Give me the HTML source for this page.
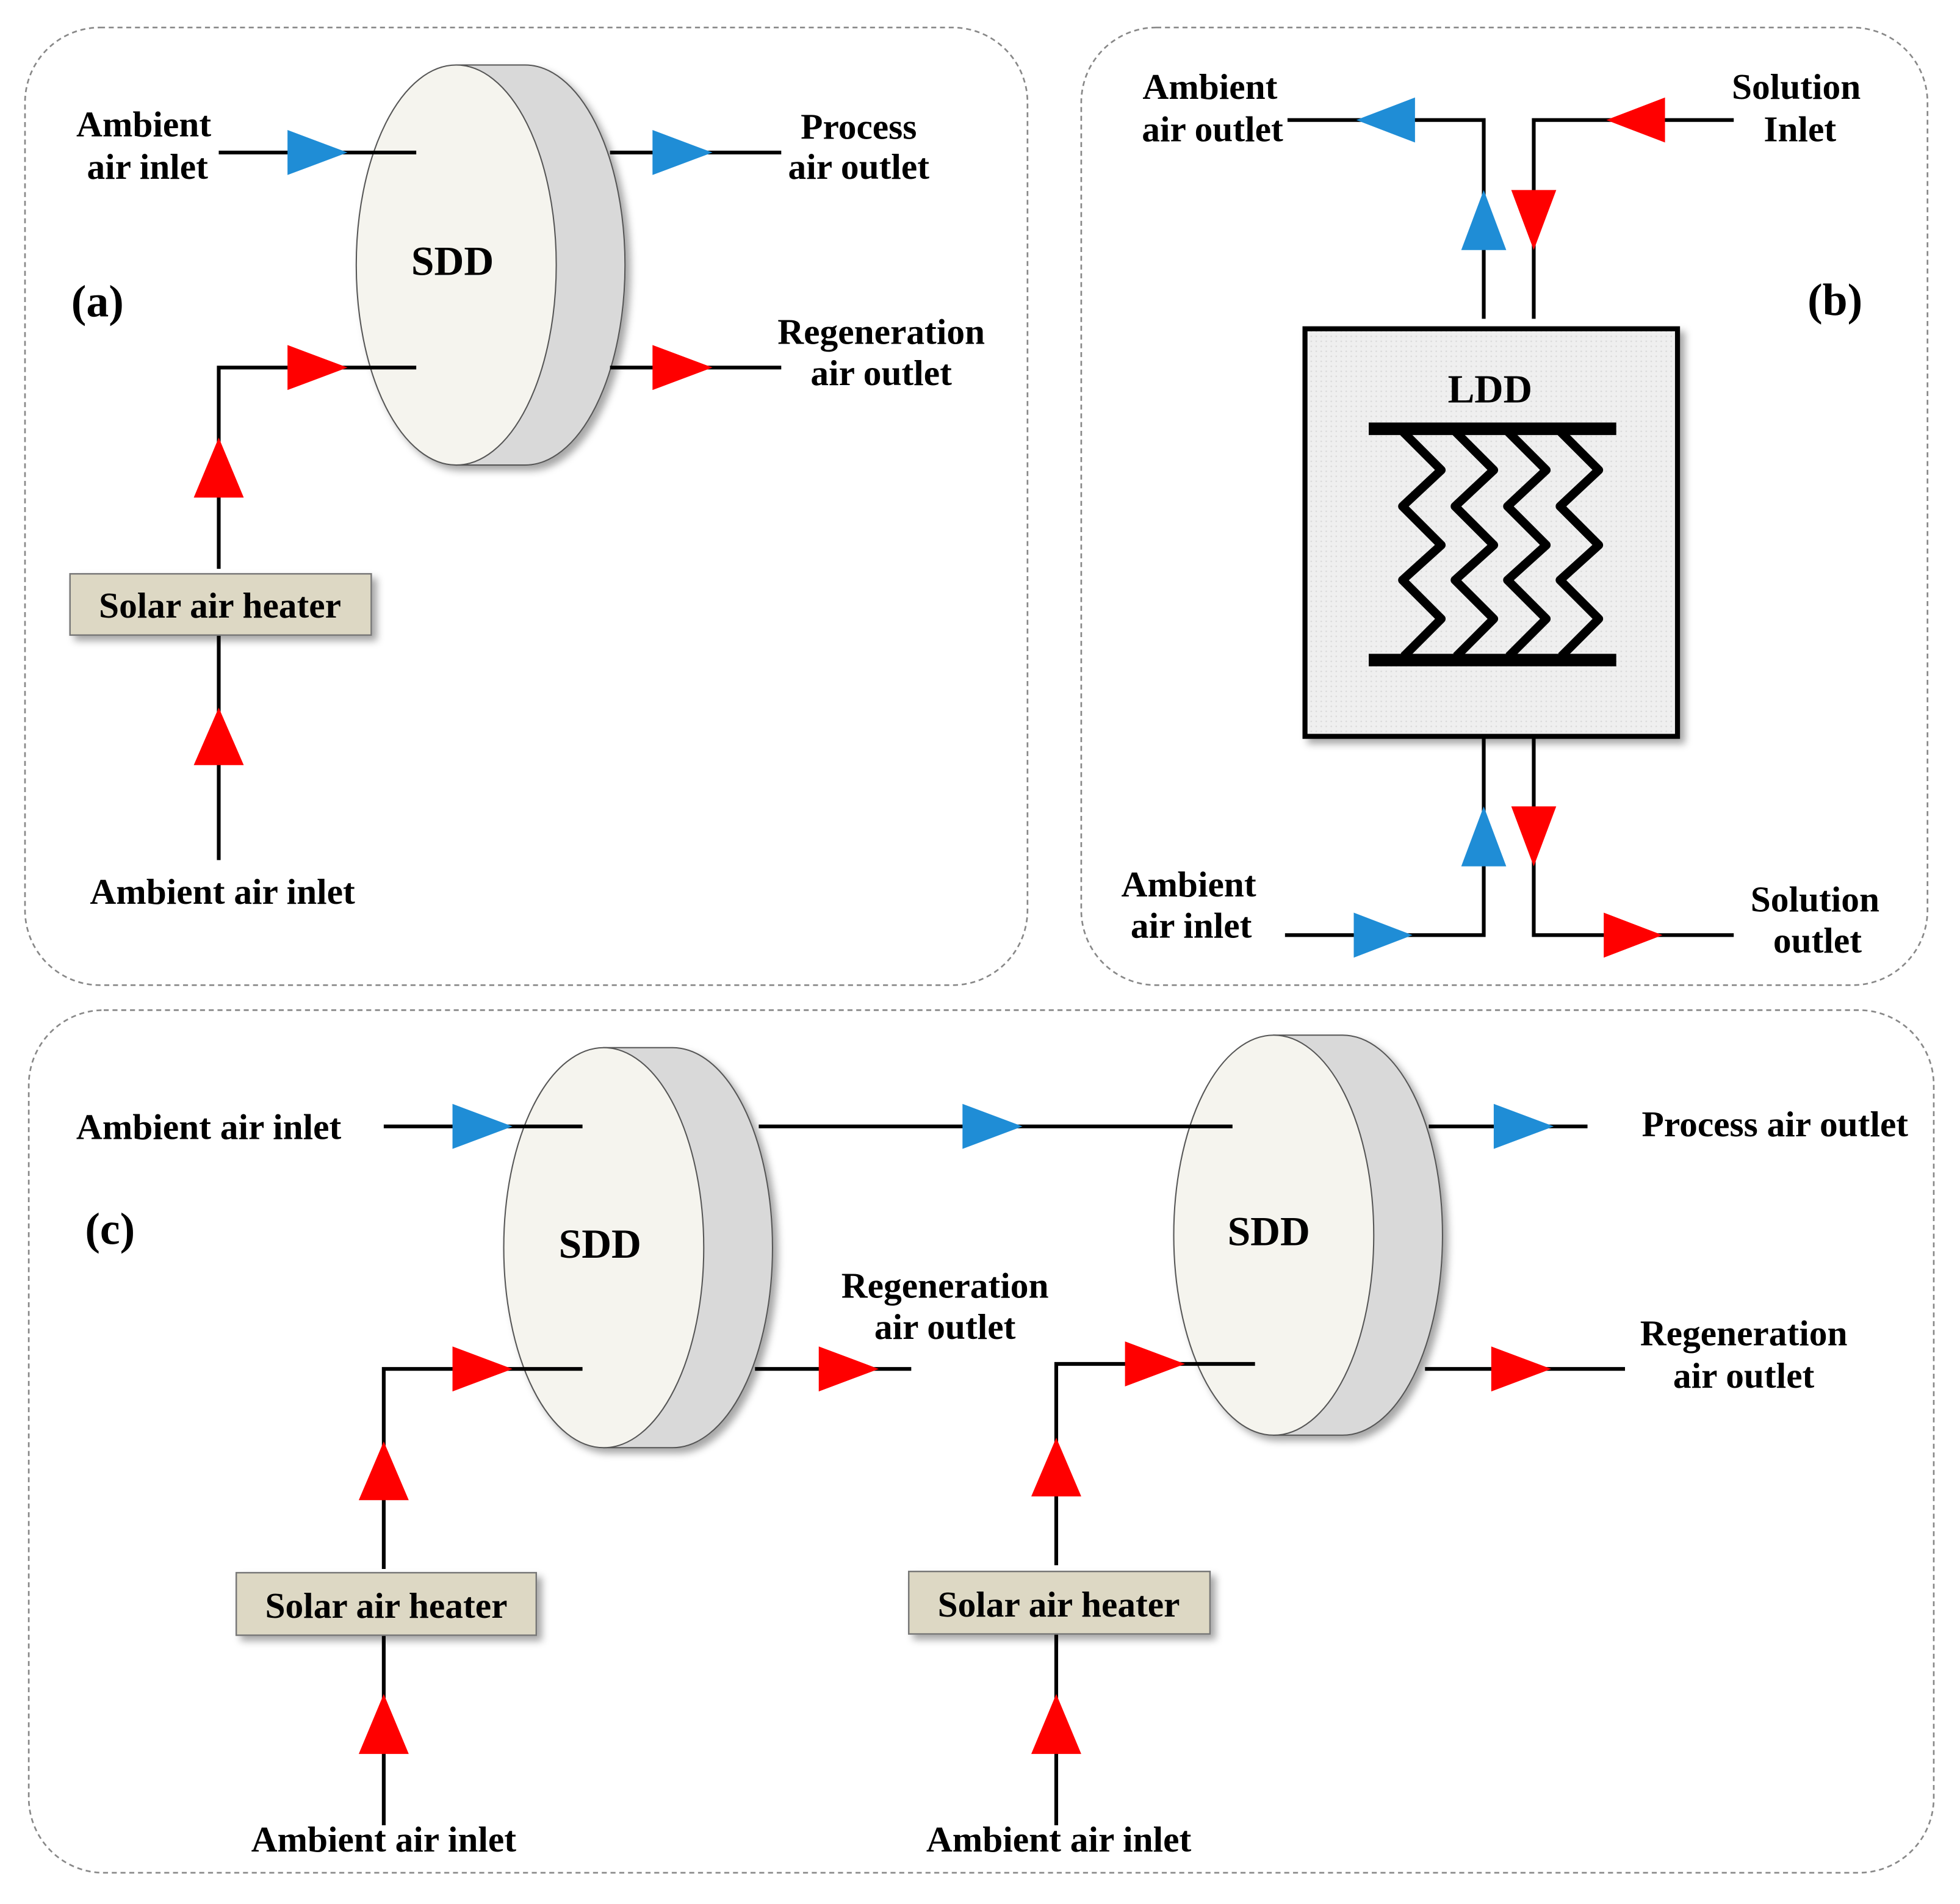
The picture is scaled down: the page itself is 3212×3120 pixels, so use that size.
<!DOCTYPE html>
<html><head><meta charset="utf-8"><style>
html,body{margin:0;padding:0;background:#fff;}
svg{display:block;}
text{font-family:"Liberation Serif",serif;font-weight:bold;fill:#000;}
</style></head><body>
<svg width="3212" height="3120" viewBox="0 0 1568 1523" preserveAspectRatio="none" xmlns="http://www.w3.org/2000/svg">
<defs>
<filter id="sh" x="-20%" y="-20%" width="150%" height="150%"><feDropShadow dx="4" dy="4" stdDeviation="3" flood-color="#000" flood-opacity="0.35"/></filter>
<pattern id="dots" width="4" height="4" patternUnits="userSpaceOnUse"><rect width="4" height="4" fill="#efefef"/><circle cx="1" cy="1" r="0.6" fill="#d8d8d8"/></pattern>
</defs>
<g fill="none" stroke="#888" stroke-width="1.3" stroke-dasharray="4,3">
<rect x="20" y="22" width="802" height="766" rx="60"/>
<rect x="865" y="22" width="677" height="766" rx="60"/>
<rect x="23" y="808" width="1524" height="690" rx="60"/>
</g>

<g filter="url(#sh)">
<path d="M365 52 L420 52 A80 160 0 0 1 420 372 L365 372 Z" fill="#d9d9d9" stroke="#555" stroke-width="1"/>
<ellipse cx="365" cy="212" rx="80" ry="160" fill="#f5f4ee" stroke="#555" stroke-width="1"/>
</g>
<g filter="url(#sh)">
<path d="M483 838 L538 838 A80 160 0 0 1 538 1158 L483 1158 Z" fill="#d9d9d9" stroke="#555" stroke-width="1"/>
<ellipse cx="483" cy="998" rx="80" ry="160" fill="#f5f4ee" stroke="#555" stroke-width="1"/>
</g>
<g filter="url(#sh)">
<path d="M1019 828 L1074 828 A80 160 0 0 1 1074 1148 L1019 1148 Z" fill="#d9d9d9" stroke="#555" stroke-width="1"/>
<ellipse cx="1019" cy="988" rx="80" ry="160" fill="#f5f4ee" stroke="#555" stroke-width="1"/>
</g>

<g stroke="#000" stroke-width="3" fill="none">
<path d="M175 122 H333 M488 122 H625"/>
<path d="M175 455 V294 H333 M488 294 H625"/>
<path d="M175 508 V688"/>
<path d="M1030 96 H1187 V255 M1387 96 H1227 V255"/>
<path d="M1187 590 V748 H1028 M1227 590 V748 H1387"/>
<path d="M307 901 H466 M607 901 H986 M1143 901 H1270"/>
<path d="M307 1255 V1095 H466 M604 1095 H729"/>
<path d="M307 1308 V1460"/>
<path d="M845 1252 V1091 H1004 M1140 1095 H1300"/>
<path d="M845 1307 V1460"/>
</g>

<g fill="#1f8dd6">
<polygon points="230,104 278,122 230,140"/>
<polygon points="522,104 570,122 522,140"/>
<polygon points="1132,78 1085,96 1132,114"/>
<polygon points="1169,200 1187,152 1205,200"/>
<polygon points="1169,693 1187,645 1205,693"/>
<polygon points="1083,730 1130,748 1083,766"/>
<polygon points="362,883 410,901 362,919"/>
<polygon points="770,883 818,901 770,919"/>
<polygon points="1195,883 1243,901 1195,919"/>
</g>
<g fill="#f00">
<polygon points="230,276 278,294 230,312"/>
<polygon points="522,276 570,294 522,312"/>
<polygon points="155,398 175,350 195,398"/>
<polygon points="155,612 175,566 195,612"/>
<polygon points="1332,78 1285,96 1332,114"/>
<polygon points="1209,152 1227,200 1245,152"/>
<polygon points="1209,645 1227,693 1245,645"/>
<polygon points="1283,730 1330,748 1283,766"/>
<polygon points="362,1077 410,1095 362,1113"/>
<polygon points="655,1077 703,1095 655,1113"/>
<polygon points="287,1200 307,1153 327,1200"/>
<polygon points="287,1403 307,1355 327,1403"/>
<polygon points="900,1073 948,1091 900,1109"/>
<polygon points="1193,1077 1241,1095 1193,1113"/>
<polygon points="825,1197 845,1150 865,1197"/>
<polygon points="825,1403 845,1355 865,1403"/>
</g>

<g fill="#ddd8c4" stroke="#777" stroke-width="1.2" filter="url(#sh)">
<rect x="56" y="459" width="241" height="49"/>
<rect x="189" y="1258" width="240" height="50"/>
<rect x="727" y="1257" width="241" height="50"/>
</g>

<rect x="1044" y="263" width="298" height="326" fill="url(#dots)" stroke="#000" stroke-width="4" filter="url(#sh)"/>
<g stroke="#000" stroke-width="10"><path d="M1095 343 H1293 M1095 528 H1293"/></g>
<g stroke="#000" stroke-width="7" fill="none" stroke-linejoin="round">
<polyline points="1121,344 1153,376 1122,405 1153,436 1122,464 1153,495 1123,525"/>
<polyline points="1163,344 1195,376 1164,405 1195,436 1164,464 1195,495 1165,525"/>
<polyline points="1205,344 1237,376 1206,405 1237,436 1206,464 1237,495 1207,525"/>
<polyline points="1247,344 1279,376 1248,405 1279,436 1248,464 1279,495 1249,525"/>
</g>

<g font-size="29" text-anchor="middle">
<text x="115" y="109">Ambient</text><text x="118" y="143">air inlet</text>
<text x="687" y="111">Process</text><text x="687" y="143">air outlet</text>
<text x="362" y="220" font-size="33">SDD</text>
<text x="78" y="253" font-size="36">(a)</text>
<text x="705" y="275">Regeneration</text><text x="705" y="308">air outlet</text>
<text x="178" y="723">Ambient air inlet</text>
<text x="968" y="79">Ambient</text><text x="970" y="113">air outlet</text>
<text x="1437" y="79">Solution</text><text x="1440" y="113">Inlet</text>
<text x="1468" y="252" font-size="36">(b)</text>
<text x="1192" y="322" font-size="32">LDD</text>
<text x="951" y="717">Ambient</text><text x="953" y="750">air inlet</text>
<text x="1452" y="729">Solution</text><text x="1454" y="762">outlet</text>
<text x="176" y="494">Solar air heater</text>
<text x="309" y="1294">Solar air heater</text>
<text x="847" y="1293">Solar air heater</text>
<text x="167" y="911">Ambient air inlet</text>
<text x="88" y="995" font-size="36">(c)</text>
<text x="480" y="1006" font-size="33">SDD</text>
<text x="1015" y="996" font-size="33">SDD</text>
<text x="756" y="1038">Regeneration</text><text x="756" y="1071">air outlet</text>
<text x="1420" y="909">Process air outlet</text>
<text x="1395" y="1076">Regeneration</text><text x="1395" y="1110">air outlet</text>
<text x="307" y="1481">Ambient air inlet</text>
<text x="847" y="1481">Ambient air inlet</text>
</g>
</svg>
</body></html>
